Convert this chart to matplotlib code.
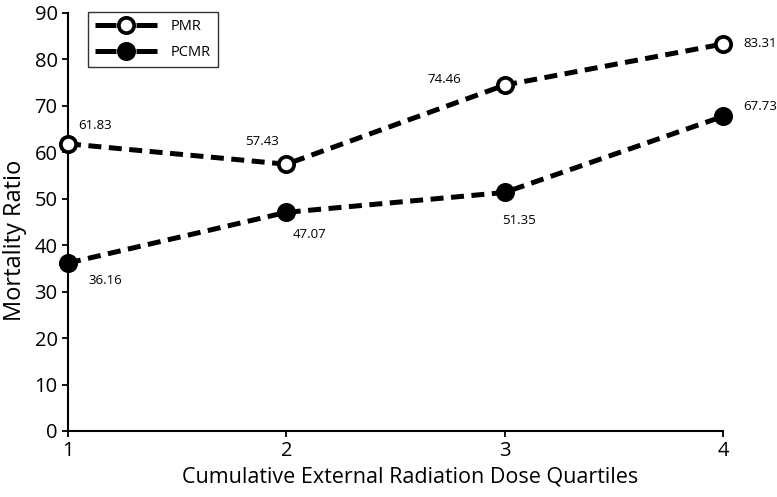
import matplotlib
matplotlib.use('Agg')
import matplotlib.pyplot as plt
from matplotlib.lines import Line2D

quartiles = [1, 2, 3, 4]
pmr = [61.83, 57.43, 74.46, 83.31]
pcmr = [36.16, 47.07, 51.35, 67.73]

# label offsets in pixels (dx, dy) relative to each point
pmr_off = [(27, 18), (-24, 23), (-60, 6), (37, 0)]
pcmr_off = [(37, -17), (23, -22), (14, -28), (37, 10)]

plt.rcParams['font.family'] = ['Open Sans', 'DejaVu Sans']

fig = plt.figure(figsize=(7.77, 4.97), dpi=100)
ax = fig.add_axes([0.0875, 0.1328, 0.843, 0.8412])

style = dict(color='black', lw=3.6, markersize=11, markeredgewidth=2.7,
             marker='o', markeredgecolor='black')
ax.plot(quartiles, pmr, markerfacecolor='white', dashes=(2.6, 1.5),
        clip_on=False, zorder=3, **style)
ax.plot(quartiles, pcmr, markerfacecolor='black', dashes=(2.6, 1.5),
        clip_on=False, zorder=3, **style)

for xs, ys, offs in ((quartiles, pmr, pmr_off), (quartiles, pcmr, pcmr_off)):
    for x, y, (dx, dy) in zip(xs, ys, offs):
        ax.annotate('%.2f' % y, (x, y), xytext=(dx * 0.72, dy * 0.72),
                    textcoords='offset points', ha='center', va='center',
                    fontsize=9.5)

ax.set_xlim(1, 4)
ax.set_ylim(0, 90)
ax.set_xticks(quartiles)
ax.set_yticks(range(0, 91, 10))
ax.spines['top'].set_visible(False)
ax.spines['right'].set_visible(False)
for s in ('left', 'bottom'):
    ax.spines[s].set_linewidth(1.5)
ax.tick_params(width=1.3, length=4.5, labelsize=14.5, pad=3)

ax.set_xlabel('Cumulative External Radiation Dose Quartiles', fontsize=15.5)
ax.xaxis.set_label_coords(0.522, -0.085)
ax.set_ylabel('Mortality Ratio', fontsize=17)
ax.yaxis.set_label_coords(-0.062, 0.455)

# legend handles: dash - marker - dash
handles = [Line2D([], [], markerfacecolor='white', dashes=(4.2, 4), **style),
           Line2D([], [], markerfacecolor='black', dashes=(4.2, 4), **style)]
leg = ax.legend(handles, ['PMR', 'PCMR'], loc='upper left',
                bbox_to_anchor=(0.0305, 1.003), fontsize=10.5,
                frameon=True, fancybox=False, edgecolor='black',
                handlelength=4.25, borderpad=0.5, labelspacing=0.75,
                handletextpad=0.9, borderaxespad=0)
leg.get_frame().set_linewidth(1.0)

fig.savefig('out.png', dpi=100)
